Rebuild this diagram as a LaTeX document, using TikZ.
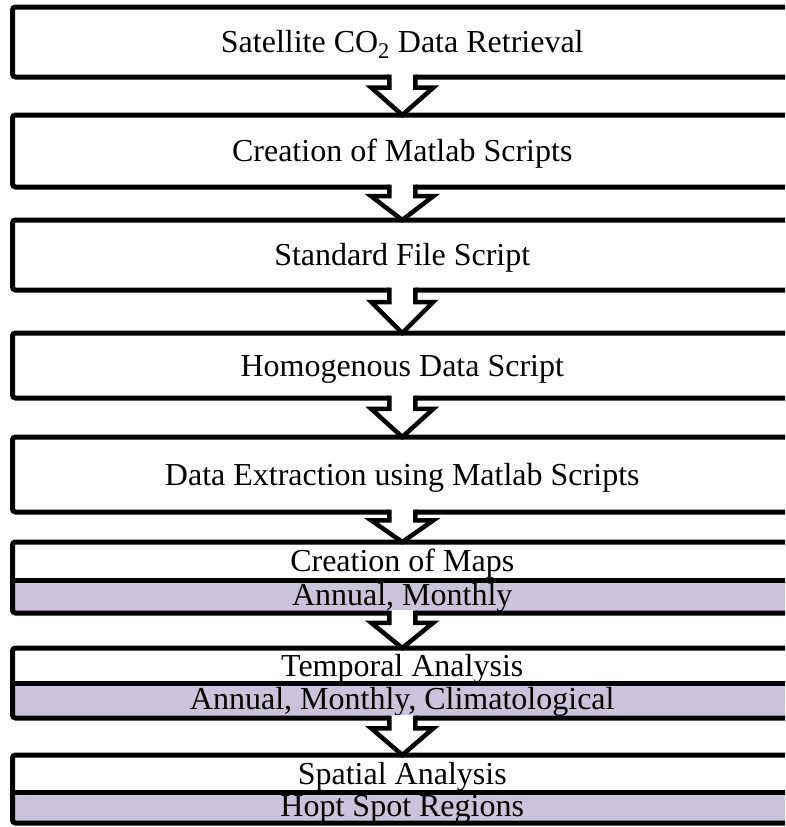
\documentclass[tikz,border=0pt]{standalone}
\usepackage{fontspec}
\setmainfont{Liberation Serif}
\usetikzlibrary{calc}
\definecolor{lav}{RGB}{203,194,219}
\newcommand\blockarrow[2]{%
  \fill[white] let \p1=(#1.south), \p2=(#2.north), \n1={0.72*(\y1-\y2)} in
    ({\x1-13pt},{\y1+3pt}) -- ({\x1-13pt},{\y2+\n1}) -- ({\x1-31pt},{\y2+\n1}) --
    (\x1,\y2) -- ({\x1+31pt},{\y2+\n1}) -- ({\x1+13pt},{\y2+\n1}) -- ({\x1+13pt},{\y1+3pt}) -- cycle;
  \draw[arrowline] let \p1=(#1.south), \p2=(#2.north), \n1={0.72*(\y1-\y2)} in
    ({\x1-13pt},{\y1+2.5pt}) -- ({\x1-13pt},{\y2+\n1}) -- ({\x1-31pt},{\y2+\n1}) --
    (\x1,\y2) -- ({\x1+31pt},{\y2+\n1}) -- ({\x1+13pt},{\y2+\n1}) -- ({\x1+13pt},{\y1+2.5pt});
}
\begin{document}
\begin{tikzpicture}[x=1pt,y=-1pt,
  frame/.style={draw, line width=5pt, rounded corners=3pt, minimum width=779.5pt,
    inner sep=0pt, outer sep=0pt, text height=21pt, text depth=0pt,
    font=\fontsize{32}{36}\selectfont},
  label/.style={inner sep=0pt, text height=21pt, text depth=0pt,
    font=\fontsize{32}{36}\selectfont},
  divider/.style={line width=5pt},
  arrowline/.style={line width=4.5pt, line join=miter}]
\useasboundingbox (0,0) rectangle (785,827);
\begin{scope}
\clip (0,0) rectangle (785,827);
\node[frame, minimum height=70pt] (b1) at (402.25,42) {Satellite CO\textsubscript{2} Data Retrieval};
\node[frame, minimum height=72pt] (b2) at (402.25,151) {Creation of Matlab Scripts};
\node[frame, minimum height=70pt] (b3) at (402.25,255) {Standard File Script};
\node[frame, minimum height=65pt] (b4) at (402.25,365.5) {Homogenous Data Script};
\node[frame, minimum height=75pt] (b5) at (402.25,474.5) {Data Extraction using Matlab Scripts};
% split boxes
\fill[lav] (12.5,580) rectangle (792,613);
\node[frame, minimum height=71pt] (b6) at (402.25,577.5) {};
\draw[divider] (12.5,580) -- (792,580);
\node[label] (t6a) at (402.25,561) {Creation of Maps};
\node[label] (t6b) at (402.25,595) {Annual, Monthly};
\fill[lav] (12.5,683) rectangle (792,718);
\node[frame, minimum height=70pt] (b7) at (402.25,683) {};
\draw[divider] (12.5,683) -- (792,683);
\node[label] (t7a) at (402.25,665.5) {Temporal Analysis};
\node[label] (t7b) at (402.25,699) {Annual, Monthly, Climatological};
\fill[lav] (12.5,792) rectangle (792,823);
\node[frame, minimum height=68pt] (b8) at (402.25,789) {};
\draw[divider] (12.5,792) -- (792,792);
\node[label] (t8a) at (402.25,773.5) {Spatial Analysis};
\node[label] (t8b) at (402.25,806) {Hopt Spot Regions};
\blockarrow{b1}{b2}
\blockarrow{b2}{b3}
\blockarrow{b3}{b4}
\blockarrow{b4}{b5}
\blockarrow{b5}{b6}
\blockarrow{b6}{b7}
\blockarrow{b7}{b8}
\end{scope}
\end{tikzpicture}
\end{document}
